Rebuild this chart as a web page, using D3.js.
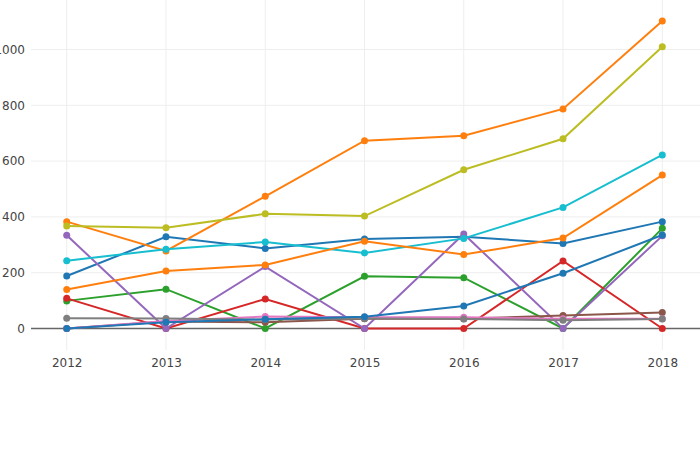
<!DOCTYPE html>
<html>
<head>
<meta charset="utf-8">
<script src="https://cdn.jsdelivr.net/npm/d3@7"></script>
<style>
  body { margin: 0; background: #fff; }
  text { font-family: "DejaVu Sans", sans-serif; }
</style>
</head>
<body>
<script>
"use strict"
const w = 700;
const h = 450;

const years = [2012, 2013, 2014, 2015, 2016, 2017, 2018];
const yTicks = [0, 200, 400, 600, 800, 1000];

// one array per trace, in drawing order
const blueA   = [188, 329, 287, 321, 329, 305, 383];
const orangeA = [383, 278, 474, 673, 691, 787, 1102];
const green   = [99, 141, 0, 187, 182, 0, 359];
const red     = [108, 0, 106, 0, 0, 242, 0];
const purple  = [334, 0, 222, 0, 339, 0, 332];
const brown   = [0, 25, 22, 35, 35, 47, 57];
const pink    = [0, 27, 43, 40, 40, 35, 35];
const gray    = [37, 36, 32, 36, 34, 30, 34];
const olive   = [367, 361, 411, 403, 569, 680, 1010];
const cyan    = [243, 284, 310, 271, 323, 434, 622];
const blueB   = [0, 22, 33, 42, 81, 198, 335];
const orangeB = [140, 206, 228, 313, 265, 324, 550];

const series = [blueA, orangeA, green, red, purple, brown, pink, gray, olive, cyan, blueB, orangeB];
const colors = d3.schemeCategory10;

const plotLeft = 31, plotRight = w, plotTop = 0, plotBottom = 350;

const xScale = d3.scaleLinear()
	.domain([2011.64, 2018.38])
	.range([plotLeft, plotRight]);

const yScale = d3.scaleLinear()
	.domain([0, 1000])
	.range([328.5, 49.5]);

const svg = d3.select('body')
	.append('svg')
	.attr('width', w)
	.attr('height', h);

// grid
svg.append('g')
	.selectAll('line')
	.data(years)
	.enter()
	.append('line')
	.attr('x1', d => xScale(d))
	.attr('x2', d => xScale(d))
	.attr('y1', plotTop)
	.attr('y2', plotBottom)
	.attr('stroke', '#eee')
	.attr('stroke-width', 1);

svg.append('g')
	.selectAll('line')
	.data(yTicks.filter(d => d !== 0))
	.enter()
	.append('line')
	.attr('x1', plotLeft)
	.attr('x2', plotRight)
	.attr('y1', d => yScale(d))
	.attr('y2', d => yScale(d))
	.attr('stroke', '#eee')
	.attr('stroke-width', 1);

// axes (labels only, plotly style)
const yAxis = d3.axisLeft(yScale).tickValues(yTicks).tickSize(0).tickPadding(6).tickFormat(d3.format('d'));
const xAxis = d3.axisBottom(xScale).tickValues(years).tickSize(0).tickPadding(8).tickFormat(d3.format('d'));

const gy = svg.append('g')
	.attr('transform', 'translate(' + (plotLeft) + ',0)')
	.call(yAxis);
const gx = svg.append('g')
	.attr('transform', 'translate(0,' + plotBottom + ')')
	.call(xAxis);

[gx, gy].forEach(g => {
	g.select('.domain').remove();
	g.selectAll('text')
		.attr('fill', '#444')
		.style('font-size', '12px');
});

// zero line
svg.append('line')
	.attr('x1', plotLeft)
	.attr('x2', plotRight)
	.attr('y1', yScale(0))
	.attr('y2', yScale(0))
	.attr('stroke', '#666')
	.attr('stroke-width', 1.5);

const line = d3.line()
	.x((d, i) => xScale(years[i]))
	.y(d => yScale(d));

series.forEach((s, k) => {
	const g = svg.append('g');
	g.append('path')
		.datum(s)
		.attr('d', line)
		.attr('fill', 'none')
		.attr('stroke', colors[k % 10])
		.attr('stroke-width', 2);
	g.selectAll('circle')
		.data(s)
		.enter()
		.append('circle')
		.attr('cx', (d, i) => xScale(years[i]))
		.attr('cy', d => yScale(d))
		.attr('r', 3.5)
		.attr('fill', colors[k % 10]);
});
</script>
</body>
</html>
